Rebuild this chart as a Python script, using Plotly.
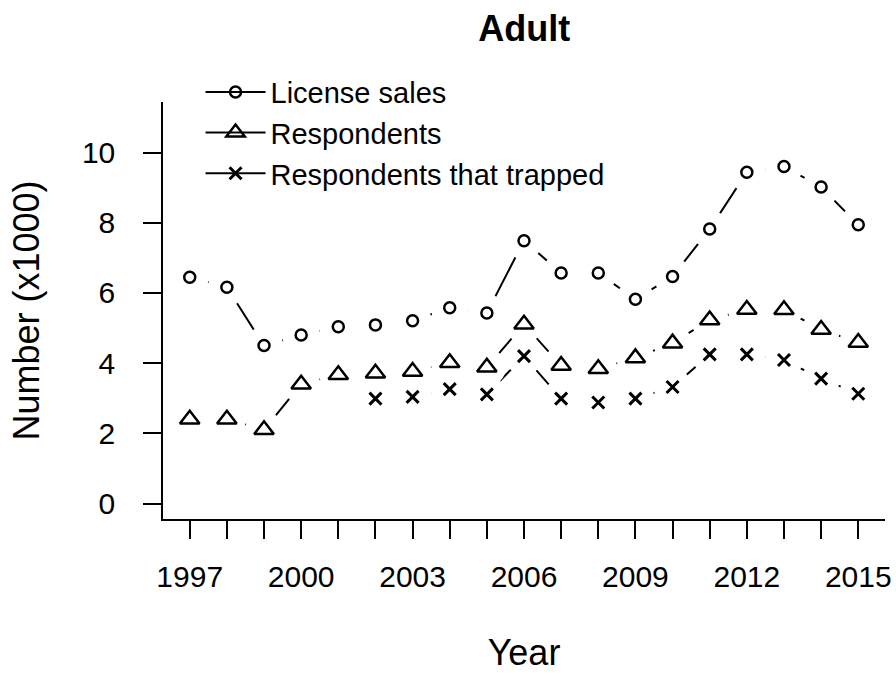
import plotly.graph_objects as go

years = list(range(1997, 2016))
license_sales = [6.45, 6.16, 4.50, 4.80, 5.04, 5.09, 5.21, 5.58, 5.43, 7.49,
                 6.57, 6.57, 5.82, 6.47, 7.82, 9.44, 9.60, 9.02, 7.94]
respondents = [2.40, 2.40, 2.10, 3.40, 3.67, 3.71, 3.76, 4.01, 3.88, 5.11,
               3.93, 3.84, 4.15, 4.57, 5.23, 5.53, 5.52, 4.96, 4.59]
trapped = [None, None, None, None, None, 2.99, 3.04, 3.26, 3.11, 4.20,
           2.99, 2.88, 2.99, 3.32, 4.25, 4.25, 4.09, 3.56, 3.13]

series_names = ["License sales", "Respondents", "Respondents that trapped"]
series_values = [license_sales, respondents, trapped]
symbols = ["circle-open", "triangle-up-open", "x-thin-open"]
sizes = [11, 17, 12]
mwidths = [2.5, 2.5, 3]

x_labeled = [1997, 2000, 2003, 2006, 2009, 2012, 2015]
tick_text = [str(y) if y in x_labeled else "" for y in years]

FONT = "Liberation Sans, Arial, sans-serif"

fig = go.Figure()
# lines (with legend entry)
for name, vals, sym, sz, mw in zip(series_names, series_values, symbols, sizes, mwidths):
    fig.add_trace(go.Scatter(
        x=years, y=vals, name=name, mode="lines+markers",
        line=dict(color="black", width=2),
        marker=dict(symbol=sym, size=sz, color="black", line=dict(color="black", width=mw)),
        connectgaps=False,
    ))
# white halos to create the gaps of R's type="b"
for vals in series_values:
    fig.add_trace(go.Scatter(
        x=years, y=vals, mode="markers", showlegend=False, hoverinfo="skip",
        marker=dict(symbol="circle", size=38, color="white", line=dict(width=0)),
    ))
# symbols on top
for name, vals, sym, sz, mw in zip(series_names, series_values, symbols, sizes, mwidths):
    fig.add_trace(go.Scatter(
        x=years, y=vals, mode="markers", showlegend=False,
        marker=dict(symbol=sym, size=sz, color="black", line=dict(color="black", width=mw)),
    ))

fig.update_layout(
    width=896, height=673,
    margin=dict(l=163, r=11, t=102, b=154, autoexpand=False),
    paper_bgcolor="white", plot_bgcolor="white",
    font=dict(family=FONT, size=30, color="black"),
    title=dict(text="<b>Adult</b>", x=0.585, xanchor="center", xref="container",
               y=0.958, yanchor="middle", yref="container",
               font=dict(family=FONT, size=36, color="black")),
    showlegend=True,
    legend=dict(x=0.052, y=1.085, xanchor="left", yanchor="top",
                bgcolor="rgba(0,0,0,0)", font=dict(family=FONT, size=29),
                itemsizing="trace", tracegroupgap=0, itemwidth=60),
    xaxis=dict(range=[1996.28, 2015.72], tickmode="array", tickvals=years, ticktext=tick_text,
               showgrid=False, zeroline=False, showline=True, linecolor="black", linewidth=1.5,
               ticks="outside", ticklen=18, tickwidth=1.5, tickcolor="black",
               ticklabelstandoff=12, automargin=False,
               title=dict(text="Year", standoff=53, font=dict(family=FONT, size=36))),
    yaxis=dict(range=[-0.44, 11.44], tickmode="array", tickvals=[0, 2, 4, 6, 8, 10],
               showgrid=False, zeroline=False, showline=True, linecolor="black", linewidth=1.5,
               ticks="outside", ticklen=18, tickwidth=1.5, tickcolor="black",
               ticklabelstandoff=22, automargin=False,
               title=dict(text="Number (x1000)", standoff=31, font=dict(family=FONT, size=36))),
)

fig.write_html("out.html", config={"displayModeBar": False},
               post_script="document.body.style.margin='0';document.body.style.overflow='hidden';")
